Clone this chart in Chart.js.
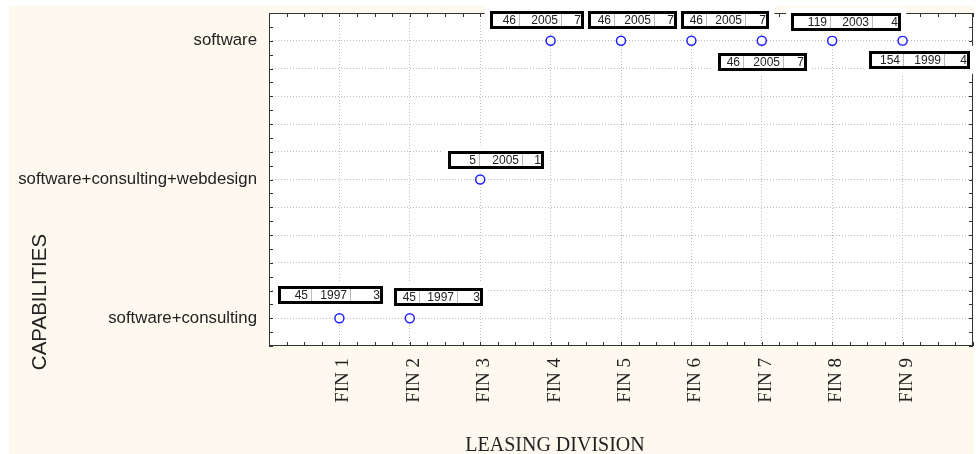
<!DOCTYPE html>
<html>
<head>
<meta charset="utf-8">
<script src="https://cdn.jsdelivr.net/npm/chart.js@4"></script>
<style>
  html, body { margin: 0; padding: 0; background: #fff; }
  #wrap { width: 976px; height: 454px; }
</style>
</head>
<body>
<div id="wrap"><canvas id="myChart"></canvas></div>
<script>
// data
var divisions = ['FIN 1', 'FIN 2', 'FIN 3', 'FIN 4', 'FIN 5', 'FIN 6', 'FIN 7', 'FIN 8', 'FIN 9'];
var capabilities = ['software+consulting', 'software+consulting+webdesign', 'software'];
// capability index (1 = software+consulting, 2 = +webdesign, 3 = software) per division
var capabilityOf = [1, 1, 2, 3, 3, 3, 3, 3, 3];
// the three numbers printed in each label box
var firstVal = [45, 45, 5, 46, 46, 46, 46, 119, 154];
var yearVal = [1997, 1997, 2005, 2005, 2005, 2005, 2005, 2003, 1999];
var lastVal = [3, 3, 1, 7, 7, 7, 7, 4, 4];

// label box layout: offset from the point (px) and cell widths
var boxLayout = [
    { dx: -61, dy: -32, cells: [33, 39, 33] },
    { dx: -16, dy: -30, cells: [25, 38, 26] },
    { dx: -32, dy: -29, cells: [31, 43, 22] },
    { dx: -61, dy: -30, cells: [29, 42, 23] },
    { dx: -33, dy: -30, cells: [26, 40, 23] },
    { dx: -10, dy: -30, cells: [25, 39, 24] },
    { dx: -44, dy: 12, cells: [25, 40, 24] },
    { dx: -41, dy: -28, cells: [39, 42, 29] },
    { dx: -34, dy: 10, cells: [34, 41, 26] }
];

var points = divisions.map(function(d, i) {
    return { x: i + 1, y: capabilityOf[i] };
});

function isInt(v) { return Math.abs(v - Math.round(v)) < 1e-6; }

var cream = '#fef9ee';

var framePlugin = {
    id: 'frame',
    beforeDraw: function(chart) {
        var c = chart.ctx, a = chart.chartArea;
        c.save();
        c.fillStyle = '#fff';
        c.fillRect(0, 0, chart.width, chart.height);
        c.fillStyle = cream;
        c.fillRect(9, 6, 965, 448);
        c.fillStyle = '#fff';
        c.fillRect(a.left, a.top, a.right - a.left, a.bottom - a.top);
        c.restore();
    },
    beforeDatasetsDraw: function(chart) {
        var c = chart.ctx, a = chart.chartArea;
        var xs = chart.scales.x, ys = chart.scales.y;
        c.save();
        c.strokeStyle = '#333';
        c.lineWidth = 1;
        c.beginPath();
        // inward ticks on all four sides
        xs.ticks.forEach(function(t) {
            var px = Math.round(xs.getPixelForValue(t.value)) + 0.5;
            c.moveTo(px, a.bottom); c.lineTo(px, a.bottom - 4);
            c.moveTo(px, a.top); c.lineTo(px, a.top + 4);
        });
        ys.ticks.forEach(function(t) {
            var py = Math.round(ys.getPixelForValue(t.value)) + 0.5;
            c.moveTo(a.left, py); c.lineTo(a.left + 4, py);
            c.moveTo(a.right, py); c.lineTo(a.right - 4, py);
        });
        c.stroke();
        c.strokeRect(a.left + 0.5, a.top + 0.5, a.right - a.left - 1, a.bottom - a.top - 1);

        // axis titles
        c.fillStyle = '#222';
        c.font = '20px "Liberation Serif"';
        c.textAlign = 'center';
        c.textBaseline = 'alphabetic';
        c.fillText('LEASING DIVISION', 555, 451);
        c.translate(46, 302);
        c.rotate(-Math.PI / 2);
        c.font = '20.5px "Liberation Sans"';
        c.fillText('CAPABILITIES', 0, 0);
        c.restore();
    },
    afterDatasetsDraw: function(chart) {
        var c = chart.ctx;
        var meta = chart.getDatasetMeta(0);
        var h = 18;
        c.save();
        // white margins first, so neighbouring boxes don't hide each other
        c.fillStyle = '#fff';
        meta.data.forEach(function(el, i) {
            var L = boxLayout[i];
            var w = L.cells[0] + L.cells[1] + L.cells[2];
            c.fillRect(el.x + L.dx - 5, el.y + L.dy - 5, w + 10, h + 10);
        });
        c.font = '12px "Liberation Sans"';
        c.textAlign = 'right';
        c.textBaseline = 'middle';
        meta.data.forEach(function(el, i) {
            var L = boxLayout[i];
            var x0 = Math.round(el.x + L.dx), y0 = Math.round(el.y + L.dy);
            var w = L.cells[0] + L.cells[1] + L.cells[2];
            var vals = [firstVal[i], yearVal[i], lastVal[i]];
            var cx = x0;
            c.strokeStyle = '#bbb';
            c.lineWidth = 1;
            for (var k = 0; k < 3; k++) {
                if (k > 0) {
                    c.beginPath();
                    c.moveTo(cx + 0.5, y0 + 2); c.lineTo(cx + 0.5, y0 + h - 2);
                    c.stroke();
                }
                c.fillStyle = '#222';
                c.fillText(String(vals[k]), cx + L.cells[k] - 3, y0 + h / 2 + 1);
                cx += L.cells[k];
            }
            c.strokeStyle = '#000';
            c.lineWidth = 3;
            c.strokeRect(x0 + 1.5, y0 + 1.5, w - 3, h - 3);
        });
        c.restore();
    }
};

var ctx = document.getElementById('myChart').getContext('2d');

var myChart = new Chart(ctx, {
    type: 'scatter',
    data: {
        datasets: [{
            data: points,
            pointStyle: 'circle',
            pointRadius: 4.5,
            pointHoverRadius: 4.5,
            pointBorderWidth: 1.5,
            borderColor: '#1f1fff',
            backgroundColor: '#fff'
        }]
    },
    options: {
        responsive: true,
        maintainAspectRatio: false,
        animation: false,
        events: [],
        layout: { autoPadding: false, padding: { left: 0, top: 13, right: 3, bottom: 0 } },
        plugins: {
            legend: { display: false },
            tooltip: { enabled: false },
            title: { display: false }
        },
        scales: {
            x: {
                type: 'linear',
                min: 0,
                max: 10,
                afterFit: function(s) { s.height = 108; s.paddingLeft = 0; s.paddingRight = 0; },
                afterBuildTicks: function(s) {
                    var t = [];
                    for (var i = 0; i <= 40; i++) t.push({ value: i / 4 });
                    s.ticks = t;
                },
                border: { display: false, dash: [1, 2] },
                grid: {
                    drawTicks: false,
                    color: function(c) {
                        var v = c.tick ? c.tick.value : 0;
                        return (isInt(v) && v > 0 && v < 10) ? '#bdbdbd' : 'rgba(0,0,0,0)';
                    }
                },
                ticks: {
                    autoSkip: false,
                    maxRotation: 90,
                    minRotation: 90,
                    padding: 12,
                    labelOffset: 4,
                    color: '#222',
                    font: { family: 'Liberation Serif', size: 19 },
                    callback: function(v) {
                        if (!isInt(v)) return '';
                        var i = Math.round(v);
                        return (i >= 1 && i <= divisions.length) ? divisions[i - 1] : '';
                    }
                }
            },
            y: {
                type: 'linear',
                min: 0.8,
                max: 3.2,
                afterFit: function(s) { s.width = 269; s.paddingTop = 0; s.paddingBottom = 0; },
                afterBuildTicks: function(s) {
                    var t = [];
                    for (var i = 8; i <= 32; i++) t.push({ value: i / 10 });
                    s.ticks = t;
                },
                border: { display: false, dash: [1, 2] },
                grid: {
                    drawTicks: false,
                    color: function(c) {
                        var v = c.tick ? Math.round(c.tick.value * 10) : 0;
                        return (v % 2 === 0 && v > 8 && v < 32) ? '#bdbdbd' : 'rgba(0,0,0,0)';
                    }
                },
                ticks: {
                    autoSkip: false,
                    padding: 12,
                    color: '#222',
                    font: { family: 'Liberation Sans', size: 16.8 },
                    callback: function(v) {
                        if (!isInt(v)) return '';
                        var i = Math.round(v);
                        return (i >= 1 && i <= capabilities.length) ? capabilities[i - 1] : '';
                    }
                }
            }
        }
    },
    plugins: [framePlugin]
});
</script>
</body>
</html>
